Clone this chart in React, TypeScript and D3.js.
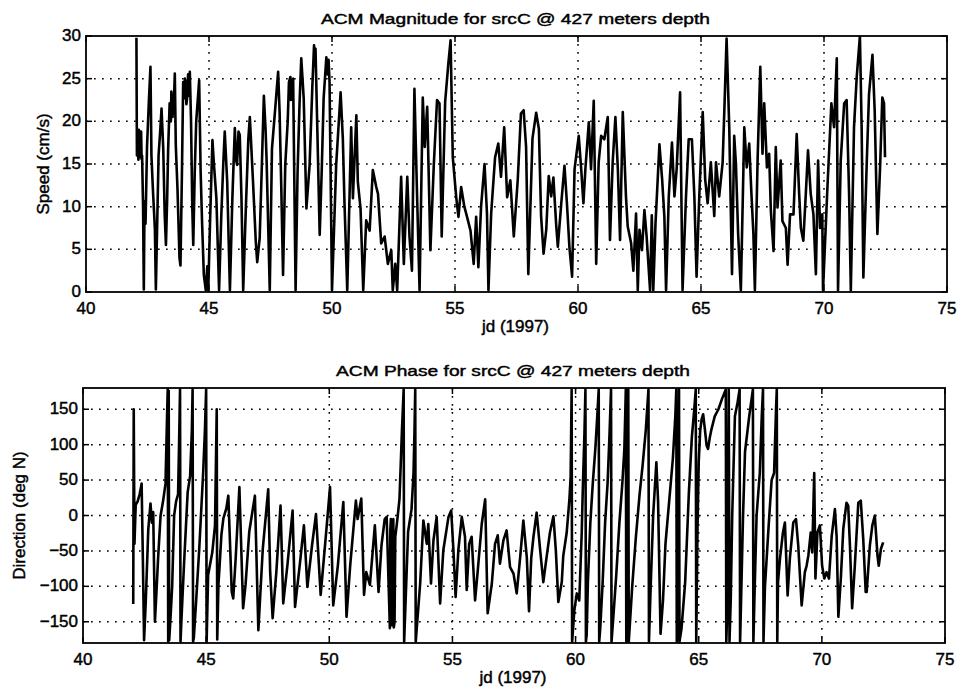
import React from "react";
import * as d3 from "d3";

// ---------- DATA ----------
const titleTop = "ACM Magnitude for srcC @ 427 meters depth";
const titleBottom = "ACM Phase for srcC @ 427 meters depth";
const xLabel = "jd (1997)";
const yLabelTop = "Speed (cm/s)";
const yLabelBottom = "Direction (deg N)";

const xTicks = [40, 45, 50, 55, 60, 65, 70, 75];
const speedTicks = [0, 5, 10, 15, 20, 25, 30];
const dirTicks = [-150, -100, -50, 0, 50, 100, 150];

const speedSeries: [number, number][] = [
  [42.05, 29.8], [42.07, 16], [42.1, 18.5], [42.12, 16.2], [42.13, 15.5], [42.15, 19], [42.16, 18], [42.18, 15.8],
  [42.2, 16], [42.22, 18.4], [42.24, 18.8], [42.26, 15.6], [42.28, 16],
  [42.32, 10], [42.35, 0.3], [42.38, 10.6], [42.42, 8], [42.48, 17], [42.55, 22], [42.62, 26.4], [42.66, 16],
  [42.72, 12], [42.8, 7.4], [42.84, 0.3], [42.89, 7.4], [42.95, 16], [43.02, 19], [43.07, 21.5], [43.14, 16.8],
  [43.2, 9], [43.25, 5.5], [43.3, 11], [43.34, 16.8], [43.4, 22.1], [43.45, 20], [43.47, 23.5], [43.5, 22], [43.52, 20.5],
  [43.54, 23], [43.56, 21],
  [43.61, 25.6], [43.65, 17.2], [43.72, 12], [43.8, 4], [43.84, 3.1], [43.9, 14], [43.95, 24.6], [44.0, 22.7],
  [44.02, 25], [44.05, 24.5], [44.08, 22], [44.12, 23], [44.15, 25.5], [44.18, 23], [44.22, 25.8], [44.27, 20], [44.32, 10], [44.36, 5.5], [44.42, 14], [44.48, 20],
  [44.6, 24.8], [44.66, 14.1], [44.72, 8], [44.79, 2], [44.87, 0.2], [44.93, 3], [44.97, 0.2], [45.05, 9],
  [45.14, 17.8], [45.2, 15], [45.3, 11], [45.41, 0.2], [45.5, 9], [45.58, 15], [45.64, 18.8], [45.74, 12.9],
  [45.85, 0.2], [45.95, 11], [46.05, 19.2], [46.1, 15.5], [46.14, 14.9], [46.2, 18.8], [46.25, 18.4], [46.32, 11], [46.39, 0.2], [46.5, 10],
  [46.6, 18], [46.66, 20.5], [46.79, 12.9], [46.9, 6], [46.96, 3.5], [47.06, 6.3], [47.15, 15], [47.23, 23],
  [47.3, 19], [47.34, 15.6], [47.47, 0.2], [47.56, 16.8], [47.65, 20], [47.81, 25.8], [47.87, 21.1], [47.94, 12],
  [48.01, 2], [48.1, 14.9], [48.2, 20], [48.25, 24.6], [48.31, 25.2], [48.33, 22.5], [48.36, 22.7], [48.39, 24.8], [48.42, 25], [48.52, 0.2], [48.6, 14],
  [48.68, 22], [48.75, 27.4], [48.85, 22.7], [48.96, 9.8], [49.09, 14.9], [49.2, 24], [49.27, 28.9], [49.3, 26.5], [49.33, 28.5], [49.36, 24.6],
  [49.5, 6.7], [49.58, 14], [49.66, 22.7], [49.77, 27.5], [49.82, 25.5], [49.86, 27.2], [49.9, 24.6], [50.0, 0.2], [50.17, 14.9], [50.35, 23.4],
  [50.44, 18], [50.51, 10.2], [50.62, 0.2], [50.78, 19.3], [50.85, 11], [50.99, 20.7], [51.05, 12.9], [51.16, 9.8],
  [51.27, 0.2], [51.39, 8.4], [51.53, 7.2], [51.66, 14.3], [51.8, 12.3], [51.87, 11.5], [52.0, 5.7], [52.14, 6.5],
  [52.27, 3.3], [52.41, 4.9], [52.47, 0.2], [52.57, 3.3], [52.65, 0.2], [52.81, 13.5], [52.92, 3.3], [53.06, 13.5],
  [53.15, 6.5], [53.25, 2.5], [53.35, 23.8], [53.46, 11.1], [53.56, 0.2], [53.69, 22.8], [53.77, 17], [53.87, 21.7],
  [54.0, 4.9], [54.14, 15], [54.27, 22.5], [54.37, 22.1], [54.46, 6.5], [54.6, 22.3], [54.73, 26.8], [54.82, 29.5],
  [54.91, 15.8], [55.05, 11.1], [55.14, 8.8], [55.25, 12.3], [55.38, 10], [55.49, 8.8], [55.63, 7.2], [55.76, 3.3],
  [55.86, 8.8], [55.95, 2.9], [56.06, 10], [56.2, 15], [56.3, 9.2], [56.36, 0.2], [56.47, 9.2], [56.63, 15.8],
  [56.76, 17.4], [56.87, 13.5], [57.0, 19.3], [57.12, 11.1], [57.25, 13.1], [57.39, 6.5], [57.55, 13.1], [57.68, 20.9],
  [57.79, 21.3], [57.89, 17], [57.98, 2.1], [58.15, 18], [58.3, 21], [58.41, 19.1], [58.5, 8.9], [58.6, 4.5],
  [58.71, 7.3], [58.81, 13.6], [58.91, 11.2], [59.0, 13.4], [59.11, 8], [59.18, 5.3], [59.32, 10.4], [59.45, 14.8],
  [59.55, 10.4], [59.65, 5.3], [59.76, 1.8], [59.86, 14.4], [60.03, 18.3], [60.13, 14.4], [60.22, 10.4], [60.3, 14.4],
  [60.44, 19.9], [60.53, 14.4], [60.64, 22.4], [60.74, 3.3], [60.84, 15.2], [60.94, 18.3], [61.07, 17.9], [61.21, 20.5],
  [61.3, 6.1], [61.41, 15.2], [61.52, 20.5], [61.62, 14.4], [61.71, 6.1], [61.82, 21.1], [61.95, 11.2], [62.02, 7.7],
  [62.16, 5.7], [62.25, 2.5], [62.36, 9.2], [62.43, 0.2], [62.5, 7.3], [62.6, 4.9], [62.7, 9.6], [62.79, 6.5],
  [62.93, 0.2], [63.0, 9], [63.06, 0.2], [63.15, 8], [63.24, 13.2], [63.31, 17.3], [63.42, 13.2], [63.51, 8.9],
  [63.58, 0.2], [63.69, 11.2], [63.82, 17.5], [63.92, 11.2], [64.01, 14.4], [64.15, 23.4], [64.25, 0.2], [64.39, 11.2],
  [64.5, 17.9], [64.63, 17.9], [64.73, 11.2], [64.82, 1.8], [64.93, 11.2], [65.07, 21.1], [65.17, 13.2], [65.27, 10.4],
  [65.4, 15.2], [65.54, 8.9], [65.61, 15.2], [65.74, 11.2], [65.88, 15.2], [65.95, 21.4], [66.04, 29.7], [66.15, 19.1],
  [66.26, 2.1], [66.35, 18.3], [66.42, 15], [66.51, 6.8], [66.62, 0.2], [66.76, 19.3], [66.86, 14.6], [66.96, 17.4],
  [67.05, 11.5], [67.13, 6.8], [67.19, 0.2], [67.3, 15.4], [67.41, 26.4], [67.5, 16.2], [67.57, 22.1], [67.68, 14.6],
  [67.77, 16.2], [67.84, 9.5], [67.95, 4.8], [68.04, 17], [68.11, 9.9], [68.24, 15.4], [68.31, 8.3], [68.45, 7.5],
  [68.52, 3.2], [68.62, 9.1], [68.76, 9.1], [68.89, 18.5], [68.99, 11.5], [69.06, 7.5], [69.16, 6], [69.26, 11.5],
  [69.35, 16.6], [69.46, 11.5], [69.57, 9.1], [69.67, 2.1], [69.76, 15.4], [69.84, 7.5], [69.93, 9.1], [69.96, 0.2],
  [70.14, 12.3], [70.3, 22.1], [70.41, 19.3], [70.52, 27.4], [70.57, 0.2], [70.68, 15.4], [70.82, 22.1], [70.92, 22.5],
  [71.02, 11.5], [71.09, 0.2], [71.22, 19.3], [71.33, 25.2], [71.46, 30], [71.53, 19.3], [71.6, 1.7], [71.74, 15.4],
  [71.83, 23.2], [71.97, 27.8], [72.06, 21.3], [72.17, 6.8], [72.28, 14.6], [72.37, 22.8], [72.44, 22.1], [72.48, 15.8],
];

const directionSeries: [number, number][] = [
  [42.04, -125], [42.06, 150], [42.09, -40], [42.14, 15], [42.22, 20], [42.3, 30], [42.38, 45], [42.43, -60],
  [42.48, -176], [42.55, -120], [42.65, -20], [42.74, 17], [42.8, -10], [42.85, 5], [42.92, -150], [42.98, -110],
  [43.05, -60], [43.15, 0], [43.25, 20], [43.35, 45], [43.42, 150], [43.44, 178], [43.46, -178], [43.48, 176],
  [43.5, -176], [43.56, -140], [43.62, -100], [43.7, 0], [43.78, 20], [43.86, 30], [43.9, 100], [43.94, 178],
  [43.96, -178], [44.0, -145], [44.1, -70], [44.25, 33], [44.35, 56], [44.42, 120], [44.45, 178], [44.47, -178],
  [44.5, -173], [44.6, -117], [44.72, -47], [44.88, 61], [44.95, 120], [45.0, 178], [45.02, -178], [45.08, -84],
  [45.25, -52], [45.36, -14], [45.43, 150], [45.45, -175], [45.5, -97], [45.55, -69], [45.62, -27], [45.7, -4],
  [45.82, 10], [45.9, 28], [46.04, -108], [46.1, -117], [46.2, -60], [46.35, 40], [46.5, -131], [46.6, -98],
  [46.75, -23], [46.98, 28], [47.12, -162], [47.3, -47], [47.52, 37], [47.6, -80], [47.7, -145], [47.85, -80],
  [48.02, 14], [48.13, -124], [48.3, -70], [48.51, 7], [48.61, -129], [48.8, -70], [48.97, -14], [49.11, -101],
  [49.3, -42], [49.46, 2], [49.65, -112], [49.85, -33], [50.03, 40], [50.16, -127], [50.35, -70], [50.57, 19],
  [50.7, -143], [50.85, -70], [51.08, 21], [51.15, -5], [51.3, 24], [51.41, -112], [51.5, -80], [51.65, -98],
  [51.85, -14], [52.0, -108], [52.12, -42], [52.25, -5], [52.33, -2], [52.46, -159], [52.48, -20], [52.5, -5],
  [52.52, -150], [52.55, -155], [52.57, -10], [52.6, -5], [52.62, -158], [52.65, -150], [52.68, -30], [52.75, -10],
  [52.85, 23], [52.95, 120], [53.02, 178], [53.04, -178], [53.2, -23],
  [53.34, 9], [53.42, 60], [53.46, 120], [53.49, 178], [53.51, -178], [53.69, -96], [53.82, -7], [53.96, -40],
  [54.02, -12], [54.13, -96], [54.23, -35], [54.36, -2], [54.5, -124], [54.63, -49], [54.84, -2], [54.95, 7],
  [55.04, -49], [55.13, -115], [55.24, -49], [55.38, -2], [55.51, -30], [55.58, -105], [55.68, -40], [55.78, -30],
  [55.92, -120], [56.03, -77], [56.19, -12], [56.33, 23], [56.43, -138], [56.6, -96], [56.73, -40], [56.84, -28],
  [56.93, -68], [57.07, -35], [57.2, -21], [57.34, -73], [57.48, -82], [57.61, -110], [57.75, -59], [57.88, -7],
  [58.02, -59], [58.11, -135], [58.2, -60], [58.29, -30], [58.42, 4], [58.56, -48], [58.69, -94], [58.83, -57],
  [58.96, -24], [59.1, -1], [59.2, -50], [59.3, -122], [59.44, -94], [59.5, -57], [59.64, -24], [59.75, 23],
  [59.8, 55], [59.84, 178], [59.86, -178], [59.95, -134], [60.05, -110], [60.15, -120], [60.25, -24], [60.3, 46],
  [60.36, 116], [60.4, 178], [60.42, -178], [60.45, -169], [60.5, -94], [60.6, -10], [60.7, 46], [60.8, 93],
  [60.88, 140], [60.94, 178], [60.96, -178], [61.0, -160], [61.1, -94], [61.2, -10], [61.3, 46], [61.38, 116],
  [61.44, 178], [61.46, -178], [61.52, -150], [61.65, -85], [61.78, -10], [61.9, 46], [61.98, 93], [62.02, 148],
  [62.04, 178], [62.06, -178], [62.1, -120], [62.14, 178], [62.16, -178], [62.3, -100], [62.45, -30], [62.6, 30],
  [62.72, 70], [62.85, 120], [62.96, 178], [62.98, -178], [63.05, -100], [63.15, 0], [63.28, 75], [63.35, 20],
  [63.45, -167], [63.55, -120], [63.65, -40], [63.8, 20], [63.95, 80], [64.05, 140], [64.09, 178], [64.11, -178],
  [64.16, -150], [64.2, 178], [64.22, -178], [64.3, -160], [64.45, -94], [64.6, 32], [64.72, 110], [64.82, 150],
  [64.88, 178], [64.9, -178], [64.95, -20], [65.0, 75], [65.06, 120], [65.12, 136], [65.18, 143], [65.25, 122],
  [65.32, 99], [65.38, 94], [65.45, 110], [65.52, 122], [65.65, 140], [65.8, 150], [65.95, 165], [66.1, 178],
  [66.12, -178], [66.17, -120], [66.22, 178], [66.25, -178], [66.3, -120], [66.36, 0], [66.47, 140], [66.58, 160],
  [66.66, 178], [66.68, -178], [66.72, -120], [66.8, 0], [66.88, 90], [67.05, 140], [67.2, 178], [67.22, -178],
  [67.26, -120], [67.35, 0], [67.48, 60], [67.56, 140], [67.61, 178], [67.63, -178], [67.69, -100], [67.83, -20],
  [67.96, 50], [68.06, 60], [68.14, 150], [68.17, 178], [68.19, -178], [68.22, -94], [68.3, -61], [68.42, -24],
  [68.5, -10], [68.61, -113], [68.7, -61], [68.84, -10], [68.95, -5], [69.04, -42], [69.18, -127], [69.31, -80],
  [69.38, -71], [69.45, -57], [69.55, -24], [69.61, -52], [69.69, 60], [69.74, -89], [69.82, -24], [69.92, -14],
  [70.01, -71], [70.1, -89], [70.19, -80], [70.29, -89], [70.4, -29], [70.53, 9], [70.6, -30], [70.67, -143],
  [70.77, -89], [70.87, -19], [71.0, 18], [71.07, 14], [71.14, -42], [71.23, -131], [71.34, -70], [71.48, 18],
  [71.58, 21], [71.68, -33], [71.78, -108], [71.82, -108], [71.95, -42], [72.05, -14], [72.15, 0], [72.26, -57],
  [72.31, -71], [72.4, -47], [72.49, -38],
];

// ---------- LAYOUT ----------
const W = 958;
const H = 690;
const FONT = "'Liberation Sans', Arial, Helvetica, sans-serif";

type PanelProps = {
  box: { left: number; right: number; top: number; bottom: number };
  yDomain: [number, number];
  yTicks: number[];
  data: [number, number][];
  title: string;
  yLabel: string;
  yLabelX: number;
  titleWidth: number;
  id: string;
};

const fmt = (v: number) => (v < 0 ? "\u2212" + Math.abs(v) : String(v));
const textStyle = { stroke: "#000", strokeWidth: 0.45 };

function Panel({ box, yDomain, yTicks, data, title, yLabel, yLabelX, titleWidth, id }: PanelProps) {
  const x = d3.scaleLinear().domain([40, 75]).range([box.left, box.right]);
  const y = d3.scaleLinear().domain(yDomain).range([box.bottom, box.top]);
  const line = d3
    .line<[number, number]>()
    .x((d) => x(d[0]))
    .y((d) => y(d[1]));
  const tickLen = 6;
  const cx = (box.left + box.right) / 2;
  const gridX = xTicks.filter((t) => t > 40 && t < 75);
  const gridY = yTicks.filter((t) => t > yDomain[0] && t < yDomain[1]);
  return (
    <g>
      <defs>
        <clipPath id={id}>
          <rect x={box.left} y={box.top} width={box.right - box.left} height={box.bottom - box.top} />
        </clipPath>
      </defs>
      {gridX.map((t) => (
        <line key={"gx" + t} x1={x(t)} x2={x(t)} y1={box.top} y2={box.bottom} stroke="#000" strokeWidth={1.5} strokeDasharray="1.7 6.3" />
      ))}
      {gridY.map((t) => (
        <line key={"gy" + t} x1={box.left} x2={box.right} y1={y(t)} y2={y(t)} stroke="#000" strokeWidth={1.5} strokeDasharray="1.7 6.3" />
      ))}
      <path d={line(data) || ""} fill="none" stroke="#000" strokeWidth={2.6} strokeLinejoin="round" clipPath={`url(#${id})`} />
      <rect x={box.left} y={box.top} width={box.right - box.left} height={box.bottom - box.top} fill="none" stroke="#000" strokeWidth={1.8} />
      {xTicks.map((t) => (
        <g key={"xt" + t}>
          <line x1={x(t)} x2={x(t)} y1={box.bottom} y2={box.bottom - tickLen} stroke="#000" strokeWidth={1.5} />
          <line x1={x(t)} x2={x(t)} y1={box.top} y2={box.top + tickLen} stroke="#000" strokeWidth={1.5} />
          <text x={x(t)} y={box.bottom + 22} textAnchor="middle" fontSize={17} fontFamily={FONT} style={textStyle}>
            {fmt(t)}
          </text>
        </g>
      ))}
      {yTicks.map((t) => (
        <g key={"yt" + t}>
          <line x1={box.left} x2={box.left + tickLen} y1={y(t)} y2={y(t)} stroke="#000" strokeWidth={1.5} />
          <line x1={box.right} x2={box.right - tickLen} y1={y(t)} y2={y(t)} stroke="#000" strokeWidth={1.5} />
          <text x={box.left - 5} y={y(t) + 5} textAnchor="end" fontSize={17} fontFamily={FONT} style={textStyle}>
            {fmt(t)}
          </text>
        </g>
      ))}
      <text x={cx - 1} y={box.top - 12} textAnchor="middle" fontSize={15.5} fontFamily={FONT} textLength={titleWidth} lengthAdjust="spacingAndGlyphs" style={textStyle}>
        {title}
      </text>
      <text x={cx - 1} y={box.bottom + 40} textAnchor="middle" fontSize={17} fontFamily={FONT} style={textStyle}>
        {xLabel}
      </text>
      <text transform={`translate(${yLabelX},${(box.top + box.bottom) / 2}) rotate(-90)`} textAnchor="middle" fontSize={17} fontFamily={FONT} style={textStyle}>
        {yLabel}
      </text>
    </g>
  );
}

export default function App() {
  return (
    <div style={{ position: "absolute", left: 0, top: 0 }}>
      <svg width={W} height={H} viewBox={`0 0 ${W} ${H}`} style={{ display: "block", background: "#fff" }}>
        <rect x={0} y={0} width={W} height={H} fill="#fff" />
        <Panel
          id="clipTop"
          box={{ left: 86, right: 947, top: 36, bottom: 292 }}
          yDomain={[0, 30]}
          yTicks={speedTicks}
          data={speedSeries}
          title={titleTop}
          yLabel={yLabelTop}
          yLabelX={49}
          titleWidth={389}
        />
        <Panel
          id="clipBottom"
          box={{ left: 83, right: 945, top: 388, bottom: 643 }}
          yDomain={[-180, 180]}
          yTicks={dirTicks}
          data={directionSeries}
          title={titleBottom}
          yLabel={yLabelBottom}
          yLabelX={25}
          titleWidth={354}
        />
      </svg>
    </div>
  );
}
